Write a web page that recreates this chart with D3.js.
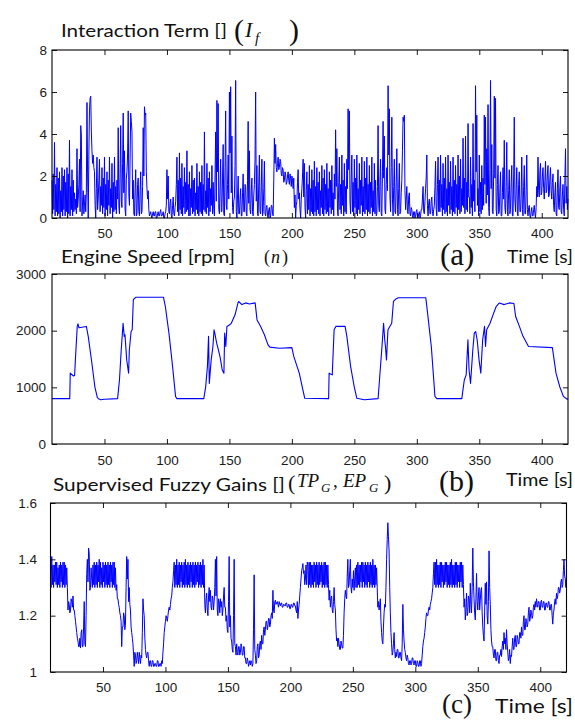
<!DOCTYPE html>
<html><head><meta charset="utf-8">
<script src="https://cdn.jsdelivr.net/npm/d3@7"></script>
<style>body{margin:0;background:#fff}</style>
</head><body>
<svg id="chart" width="575" height="720"></svg>
<script>
// ---------- data ----------
const sampleStart = 8;     // s, first sample of the sampled series
const sampleStep = 0.5;    // s
const timeDomain = [8, 421];
const timeTicks = [50, 100, 150, 200, 250, 300, 350, 400];

// (a) interaction term I_f, one value every 0.5 s from t = 8 s (each row = 10 s)
const interactionTerm = [
1.8,0.2,2.1,0.4,3.6,0.1,1.6,0.3,2.4,0.1,1.9,0.2,2.2,0.0,1.3,0.3,2.4,0.1,2.0,0.4,
2.3,0.1,1.7,0.3,2.4,0.0,2.1,0.2,3.7,0.1,1.5,0.4,2.3,0.1,1.8,0.3,1.2,0.4,0.9,0.2,
3.3,0.5,0.9,1.6,2.8,0.3,4.4,3.9,0.1,0.8,1.3,0.2,0.6,1.1,0.3,1.2,5.5,2.1,0.0,3.0,
5.1,5.7,5.8,4.1,3.2,2.6,3.0,2.4,2.2,0.6,0.0,1.4,2.9,0.4,0.9,1.8,2.8,0.3,1.5,0.6,
2.4,0.2,1.9,0.5,2.9,0.1,1.6,0.4,2.2,0.1,1.8,0.6,2.9,0.2,1.4,0.5,2.6,0.0,1.7,0.3,
2.9,0.4,1.5,0.2,1.8,0.9,4.3,0.6,0.2,2.1,4.4,0.8,0.5,2.6,5.0,1.2,3.2,0.4,0.1,1.9,
2.2,3.0,5.1,1.1,0.6,2.8,5.0,4.6,4.1,0.9,1.8,0.2,0.1,1.4,2.3,0.1,0.2,1.6,1.9,0.3,
0.1,1.3,2.2,0.2,0.3,1.5,4.3,2.0,5.3,4.9,5.0,2.2,1.4,0.9,1.3,0.4,0.1,0.2,0.3,0.1,
0.0,0.2,0.3,0.1,0.1,0.3,0.3,0.0,0.0,0.2,0.3,0.1,0.1,0.3,0.4,0.1,0.1,0.2,0.3,0.0,
0.0,0.2,0.3,0.6,2.3,0.9,2.0,0.3,0.2,0.7,0.9,0.1,0.0,0.6,1.0,0.2,0.1,0.5,0.8,1.6,
2.9,0.3,1.8,0.1,3.1,0.4,1.9,0.2,2.6,0.1,1.5,0.5,2.4,0.2,1.7,0.3,3.2,0.4,1.6,0.1,
2.2,0.1,1.4,0.5,2.5,0.2,1.8,0.3,1.9,0.1,1.2,0.4,2.6,0.2,1.5,0.1,2.2,0.3,1.7,0.2,
2.5,0.1,1.6,0.4,4.1,0.3,1.3,0.2,2.6,0.5,1.9,0.1,2.2,0.3,1.4,0.6,2.5,0.2,1.7,0.4,
0.1,2.0,4.1,0.8,5.6,2.2,5.45,0.4,0.2,1.5,2.8,0.3,0.3,1.9,3.5,0.2,0.1,2.4,5.1,0.6,
0.4,1.6,3.0,0.9,6.0,3.1,6.25,1.2,3.9,0.5,0.2,0.8,1.0,2.5,6.55,0.3,0.0,1.1,2.0,0.2,
0.2,0.9,1.4,0.1,0.1,1.2,2.1,0.3,0.3,1.6,1.5,0.2,0.1,1.8,4.6,0.7,3.2,0.4,0.2,1.3,
1.9,0.3,0.1,1.1,1.6,2.8,6.0,0.8,2.5,0.2,0.1,1.7,3.0,0.3,0.2,1.5,2.8,0.1,0.3,1.4,
2.7,0.2,0.1,0.5,0.6,0.1,0.0,0.4,0.5,0.0,0.1,0.6,0.6,0.2,0.1,1.8,3.8,2.6,3.5,2.4,
2.2,2.6,2.9,2.3,2.4,2.8,2.7,2.1,2.0,2.4,2.3,1.7,1.8,2.2,2.1,1.6,1.7,2.0,2.2,1.8,
1.6,2.1,1.9,1.5,2.0,1.8,1.4,1.9,0.5,1.1,0.0,0.6,0.8,1.7,2.3,0.9,1.2,0.4,0.0,0.9,
1.4,2.0,2.8,1.0,2.6,0.5,0.0,1.3,2.2,0.2,1.6,0.4,2.5,0.1,1.4,0.3,2.3,0.2,1.8,0.1,
2.7,0.3,1.5,0.1,2.4,0.4,1.7,0.2,2.2,0.1,1.3,0.5,2.5,0.2,1.9,0.1,2.3,0.4,1.6,0.2,
2.6,0.3,1.4,0.1,2.2,0.5,1.8,0.2,2.5,0.4,1.2,0.1,2.1,0.9,4.2,1.5,3.3,0.3,0.1,1.7,
2.9,0.4,1.6,0.2,3.0,0.6,1.8,0.1,2.6,0.3,1.5,0.2,2.8,1.4,5.2,2.3,5.1,0.8,0.2,1.9,
3.0,0.3,1.7,0.1,2.8,0.5,1.9,0.2,3.0,0.1,1.4,0.4,2.6,0.2,1.8,0.6,2.9,0.1,1.5,0.3,
2.7,0.2,1.9,0.4,2.9,0.1,1.6,0.3,2.5,0.2,1.7,0.5,2.9,0.1,1.3,0.3,2.6,0.2,1.8,0.1,
0.2,1.5,4.4,0.6,0.3,1.8,2.8,0.2,0.1,2.2,4.6,1.9,3.9,0.4,0.2,1.6,2.4,1.3,6.3,3.0,
5.2,1.0,0.3,2.4,4.8,0.9,0.1,1.5,2.8,0.3,0.2,1.7,3.3,0.4,0.1,1.4,2.6,0.2,0.3,1.2,
1.8,3.2,4.8,4.6,4.9,1.3,0.4,0.9,1.5,0.3,0.2,1.0,1.2,0.2,0.1,0.5,0.4,0.1,0.0,0.3,
0.3,0.0,0.1,0.3,0.4,0.1,0.0,0.2,0.3,0.0,0.1,0.4,0.4,0.9,1.5,0.3,0.2,0.8,1.4,1.9,
3.0,0.6,0.1,0.7,0.9,0.2,0.2,0.8,1.0,0.3,0.1,0.4,0.6,1.5,2.7,0.4,0.1,1.6,2.9,0.3,
1.8,0.3,3.0,0.5,1.6,0.1,2.6,0.4,1.9,0.2,2.9,0.3,1.4,0.1,3.0,0.6,1.7,0.2,2.7,0.4,
1.5,0.1,2.9,0.3,1.8,0.2,2.5,0.5,1.6,0.1,3.0,0.4,2.0,0.2,2.8,0.3,1.4,0.6,3.8,0.5,
1.9,0.2,3.9,0.4,1.7,0.3,4.5,1.0,1.0,0.2,2.9,0.5,1.6,0.1,4.5,0.8,1.8,0.3,6.3,2.2,
4.9,0.6,1.4,0.1,3.0,0.3,1.7,0.2,2.5,0.4,1.9,0.6,4.9,1.6,4.8,0.7,3.3,1.1,5.4,0.5,
0.1,2.3,6.55,1.4,3.5,0.3,0.2,2.1,5.8,1.9,5.7,0.4,0.1,1.6,2.5,0.2,0.3,1.4,2.2,0.1,
0.1,1.2,2.4,0.9,3.7,0.5,0.2,1.5,3.6,0.3,0.1,1.3,2.3,0.2,0.4,1.7,2.5,0.1,0.1,2.0,
4.8,0.9,0.3,1.4,2.4,0.2,0.1,1.6,2.2,0.3,0.3,1.1,2.9,0.4,0.1,1.5,2.5,0.2,0.2,1.3,
3.0,0.4,0.1,0.5,0.6,0.1,0.0,0.3,0.5,0.1,0.1,0.4,0.6,0.2,0.0,0.5,1.5,1.0,2.9,1.3,
1.0,2.2,2.6,1.1,1.2,2.0,2.4,1.4,0.9,1.8,2.7,1.2,1.3,2.1,2.5,1.0,1.1,1.9,2.4,1.3,
0.9,1.7,2.1,0.6,0.3,1.2,1.7,0.2,0.1,1.4,2.3,0.5,0.4,1.5,2.0,0.3,0.2,1.1,1.6,0.4,
0.1,1.8,3.3,0.7,1.5,0.4,0.9
];
const interactionTicks = [0, 2, 4, 6, 8];

// (b) engine speed n [rpm] at breakpoints
const engineSpeedTime = [
8,22.2,22.6,25.2,26.1,26.7,28.2,28.8,29.6,35.5,37,39.9,42.3,44.3,45.2,47,50,60.5,
62,63.4,64.9,65.8,66.4,67.8,69.3,69.9,71.3,72.2,73.1,74.3,75.2,97.2,98.7,101.6,104.5,106.9,108,
129.5,131,132.4,133.3,133.9,135.4,136.8,137.7,138.3,139.8,141.2,142.7,144.2,145.6,146.2,147.1,148,
150,151.5,154.5,156.8,157.4,160,163,166,170.6,172.1,175,178,180.9,182.4,190,200,201.5,205.9,208.8,210.3,
229.4,229.8,232.3,233.8,235.2,242.6,244,247,249.9,252,258,269,271.9,273.4,274.3,274.9,275.7,276.9,
278.4,279.9,281.3,283.1,285.2,307.2,308.6,311.6,314.5,316,336,338,339.5,340.9,341.8,343,344.8,346,
347.1,348.3,349.8,351.2,352.7,354.2,355,355.9,358.6,361.5,363.6,365.9,370,374,377.7,379.1,382.1,385,
389.4,408.5,411.4,414.4,417.3,420.3,421
];
const engineSpeedRpm = [
800,800,1250,1200,1210,1480,2075,2120,2050,2075,1900,1430,1010,820,800,780,790,800,
1130,1660,2130,1900,1930,1485,1250,1660,1985,2015,2546,2575,2590,2590,2430,1957,1370,840,800,
800,1010,1370,1900,1070,1485,1720,2015,1957,1780,1660,1515,1310,1250,1957,1720,2075,
2100,2130,2280,2487,2515,2460,2490,2470,2490,2190,2075,1927,1750,1710,1690,1700,1545,1250,955,807,
800,1250,1220,2015,2075,2075,1900,1370,1010,807,780,800,1660,2130,1840,1720,1485,2015,
2075,2130,2515,2558,2580,2580,2310,1720,840,800,800,1130,1220,1840,1310,1070,1660,1957,
1985,1840,1485,1250,1840,2075,1720,2015,2130,2310,2430,2487,2460,2490,2480,2250,2075,1900,
1720,1700,1250,1010,840,790,800
];
const engineSpeedTicks = [0, 1000, 2000, 3000];

// (c) supervised fuzzy gains, one value every 0.5 s from t = 8 s (each row = 10 s)
const fuzzyGain = [
1.33,1.30,1.41,1.31,1.38,1.30,1.38,1.32,1.39,1.31,1.39,1.30,1.37,1.31,1.38,1.30,1.39,1.32,1.38,1.30,
1.39,1.31,1.39,1.30,1.38,1.31,1.37,1.30,1.22,1.25,1.24,1.21,1.22,1.26,1.25,1.23,1.27,1.22,1.22,1.20,
1.18,1.16,1.14,1.12,1.11,1.09,1.09,1.12,1.085,1.14,1.15,1.09,1.09,1.16,1.25,1.10,1.09,1.20,1.35,1.40,
1.32,1.44,1.42,1.29,1.30,1.37,1.33,1.30,1.38,1.31,1.39,1.30,1.38,1.31,1.39,1.30,1.38,1.32,1.40,1.30,
1.39,1.31,1.37,1.30,1.39,1.32,1.38,1.30,1.39,1.31,1.38,1.30,1.39,1.31,1.38,1.30,1.39,1.32,1.38,1.30,
1.39,1.31,1.39,1.30,1.37,1.29,1.31,1.26,1.26,1.24,1.23,1.21,1.20,1.18,1.09,1.16,1.16,1.21,1.20,1.15,
1.17,1.30,1.41,1.33,1.40,1.25,1.30,1.24,1.22,1.16,1.14,1.12,1.10,1.06,1.02,1.07,1.06,1.03,1.04,1.07,
1.05,1.03,1.07,1.05,1.03,1.06,1.05,1.14,1.26,1.22,1.20,1.12,1.08,1.06,1.05,1.07,1.07,1.04,1.02,1.04,
1.04,1.02,1.02,1.04,1.04,1.02,1.02,1.03,1.03,1.02,1.02,1.04,1.04,1.02,1.02,1.03,1.03,1.02,1.04,1.03,
1.07,1.10,1.14,1.16,1.18,1.20,1.19,1.18,1.20,1.22,1.23,1.22,1.24,1.26,1.27,1.30,1.32,1.36,1.39,1.30,
1.38,1.31,1.40,1.30,1.38,1.31,1.39,1.30,1.38,1.32,1.39,1.30,1.38,1.31,1.39,1.30,1.40,1.31,1.38,1.30,
1.39,1.31,1.38,1.30,1.39,1.32,1.38,1.30,1.39,1.31,1.38,1.30,1.39,1.31,1.38,1.32,1.39,1.30,1.38,1.31,
1.39,1.30,1.38,1.31,1.40,1.30,1.38,1.24,1.21,1.26,1.28,1.22,1.20,1.27,1.30,1.25,1.29,1.23,1.22,1.27,
1.26,1.22,1.25,1.30,1.40,1.27,1.41,1.22,1.20,1.26,1.25,1.21,1.26,1.23,1.25,1.20,1.22,1.27,1.30,1.23,
1.23,1.18,1.20,1.15,1.14,1.25,1.41,1.16,1.20,1.12,1.11,1.08,1.07,1.20,1.40,1.10,1.09,1.06,1.10,1.07,
1.06,1.09,1.09,1.06,1.07,1.10,1.09,1.06,1.06,1.09,1.09,1.05,1.05,1.03,1.03,1.05,1.04,1.02,1.03,1.04,
1.025,1.04,1.035,1.02,1.03,1.15,1.345,1.08,1.06,1.03,1.04,1.09,1.10,1.05,1.06,1.10,1.11,1.08,1.13,1.10,
1.10,1.15,1.16,1.13,1.15,1.18,1.18,1.15,1.16,1.19,1.19,1.16,1.17,1.20,1.21,1.19,1.29,1.22,1.21,1.25,
1.255,1.24,1.245,1.25,1.24,1.23,1.25,1.24,1.235,1.245,1.245,1.23,1.23,1.24,1.24,1.235,1.235,1.245,1.245,1.23,
1.23,1.24,1.24,1.225,1.225,1.24,1.24,1.23,1.23,1.245,1.245,1.235,1.235,1.22,1.21,1.25,1.19,1.22,1.24,1.27,
1.30,1.33,1.36,1.37,1.385,1.35,1.36,1.31,1.33,1.38,1.31,1.39,1.38,1.30,1.39,1.31,1.39,1.30,1.38,1.31,
1.38,1.30,1.39,1.32,1.38,1.30,1.39,1.31,1.38,1.30,1.39,1.31,1.38,1.32,1.39,1.30,1.38,1.31,1.39,1.30,
1.39,1.31,1.38,1.30,1.38,1.31,1.255,1.29,1.23,1.26,1.27,1.22,1.21,1.25,1.30,1.24,1.22,1.15,1.11,1.12,
1.09,1.12,1.10,1.08,1.08,1.11,1.10,1.085,1.085,1.13,1.21,1.26,1.29,1.27,1.26,1.34,1.40,1.30,1.31,1.36,
1.40,1.30,1.28,1.33,1.30,1.36,1.29,1.33,1.37,1.30,1.38,1.30,1.39,1.31,1.38,1.30,1.38,1.32,1.39,1.30,
1.39,1.32,1.38,1.30,1.39,1.31,1.38,1.30,1.39,1.32,1.38,1.30,1.39,1.31,1.38,1.30,1.40,1.31,1.38,1.30,
1.38,1.31,1.37,1.30,1.23,1.25,1.22,1.24,1.26,1.18,1.14,1.11,1.10,1.16,1.21,1.24,1.23,1.30,1.40,1.47,
1.53,1.48,1.43,1.30,1.21,1.14,1.10,1.06,1.07,1.10,1.14,1.08,1.05,1.07,1.055,1.08,1.08,1.05,1.05,1.07,
1.07,1.05,1.04,1.10,1.24,1.15,1.11,1.08,1.07,1.05,1.04,1.06,1.05,1.03,1.025,1.04,1.04,1.025,1.03,1.05,
1.05,1.03,1.025,1.04,1.04,1.02,1.02,1.04,1.035,1.02,1.02,1.04,1.04,1.02,1.03,1.06,1.09,1.11,1.12,1.14,
1.16,1.19,1.21,1.20,1.20,1.22,1.23,1.22,1.24,1.25,1.26,1.28,1.30,1.35,1.39,1.31,1.39,1.30,1.40,1.31,
1.38,1.30,1.38,1.31,1.39,1.30,1.39,1.32,1.38,1.30,1.38,1.31,1.39,1.32,1.39,1.30,1.38,1.31,1.38,1.30,
1.39,1.31,1.40,1.30,1.38,1.31,1.38,1.30,1.39,1.31,1.39,1.30,1.38,1.32,1.38,1.30,1.39,1.32,1.39,1.30,
1.38,1.31,1.23,1.26,1.185,1.22,1.28,1.20,1.21,1.27,1.26,1.21,1.315,1.24,1.21,1.30,1.44,1.32,1.26,1.21,
1.185,1.26,1.35,1.25,1.22,1.27,1.30,1.22,1.255,1.29,1.30,1.21,1.16,1.13,1.11,1.22,1.315,1.24,1.32,1.20,
1.17,1.25,1.43,1.30,1.24,1.15,1.11,1.09,1.09,1.06,1.05,1.08,1.08,1.04,1.04,1.07,1.07,1.04,1.03,1.06,
1.06,1.08,1.055,1.09,1.11,1.08,1.14,1.10,1.12,1.08,1.15,1.10,1.07,1.04,1.05,1.08,1.03,1.06,1.055,1.09,
1.12,1.08,1.08,1.12,1.13,1.09,1.09,1.13,1.12,1.10,1.10,1.14,1.14,1.12,1.16,1.13,1.13,1.18,1.20,1.15,
1.15,1.19,1.18,1.16,1.17,1.21,1.23,1.18,1.19,1.22,1.21,1.19,1.20,1.23,1.24,1.22,1.25,1.23,1.26,1.24,
1.23,1.25,1.25,1.22,1.22,1.25,1.255,1.23,1.23,1.25,1.25,1.22,1.22,1.245,1.245,1.23,1.23,1.25,1.25,1.22,
1.22,1.24,1.24,1.20,1.17,1.21,1.22,1.25,1.26,1.24,1.28,1.26,1.27,1.30,1.30,1.28,1.29,1.32,1.33,1.30,
1.31,1.36,1.40,1.34,1.33,1.30,1.35
];
const fuzzyGainTicks = [1, 1.2, 1.4, 1.6];

// ---------- drawing ----------
const svg = d3.select('#chart');
const LINE = '#0000ff';
const TICKFONT = '"Liberation Sans", Arial, sans-serif';
const TITLEFONT = 'Lato, "Open Sans", sans-serif';
const SERIF = '"Liberation Serif", "Times New Roman", serif';

function drawPanel(cfg) {
  const x = d3.scaleLinear().domain(timeDomain).range([cfg.left, cfg.right]);
  const y = d3.scaleLinear().domain(cfg.yDomain).range([cfg.bottom, cfg.top]);
  const g = svg.append('g');

  const line = d3.line().x(d => x(d[0])).y(d => y(d[1]));
  g.append('path').datum(cfg.points)
    .attr('d', line).attr('fill', 'none').attr('stroke', LINE)
    .attr('stroke-width', cfg.lw).attr('stroke-linejoin', 'round');

  const style = sel => {
    sel.select('.domain').remove();
    sel.attr('font-family', TICKFONT).attr('font-size', 13.5);
    sel.selectAll('line').attr('stroke', '#000').attr('stroke-width', 0.9);
    sel.selectAll('text').attr('fill', '#1a1a1a');
  };
  g.append('g').attr('transform', `translate(0,${cfg.bottom})`)
    .call(d3.axisBottom(x).tickValues(timeTicks).tickSizeInner(-5).tickSizeOuter(0)
      .tickPadding(cfg.xPad).tickFormat(d3.format('d'))).call(style);
  g.append('g').attr('transform', `translate(0,${cfg.top})`)
    .call(d3.axisTop(x).tickValues(timeTicks).tickSizeInner(-5).tickSizeOuter(0).tickFormat('')).call(style);
  g.append('g').attr('transform', `translate(${cfg.left},0)`)
    .call(d3.axisLeft(y).tickValues(cfg.yTicks).tickSizeInner(-5).tickSizeOuter(0)
      .tickPadding(cfg.yPad).tickFormat(cfg.fmt)).call(style);
  g.append('g').attr('transform', `translate(${cfg.right},0)`)
    .call(d3.axisRight(y).tickValues(cfg.yTicks).tickSizeInner(-5).tickSizeOuter(0).tickFormat('')).call(style);

  g.append('rect').attr('x', cfg.left).attr('y', cfg.top)
    .attr('width', cfg.right - cfg.left).attr('height', cfg.bottom - cfg.top)
    .attr('fill', 'none').attr('stroke', '#000').attr('stroke-width', 1.1);
}

const sampled = arr => arr.map((v, i) => [sampleStart + i * sampleStep, v]);

drawPanel({ left: 52, right: 568, top: 50, bottom: 218, yDomain: [0, 8], yTicks: interactionTicks,
  fmt: d3.format('d'), xPad: 10, yPad: 5, lw: 1, points: sampled(interactionTerm) });
drawPanel({ left: 52, right: 568, top: 274, bottom: 444, yDomain: [0, 3000], yTicks: engineSpeedTicks,
  fmt: d3.format('d'), xPad: 11, yPad: 6, lw: 1.1, points: engineSpeedTime.map((t, i) => [t, engineSpeedRpm[i]]) });
drawPanel({ left: 50.5, right: 566.5, top: 503, bottom: 672, yDomain: [1, 1.6], yTicks: fuzzyGainTicks,
  fmt: d => d === 1 ? '1' : d3.format('.1f')(d), xPad: 10, yPad: 13.5, lw: 1, points: sampled(fuzzyGain) });

// ---------- titles ----------
function title(txt, x, yb, len, size) {
  svg.append('text').attr('x', x).attr('y', yb).text(txt)
    .attr('font-family', TITLEFONT).attr('font-size', size || 17).attr('fill', '#111')
    .attr('textLength', len).attr('lengthAdjust', 'spacingAndGlyphs');
}
function serif(txt, x, yb, size, italic) {
  svg.append('text').attr('x', x).attr('y', yb).text(txt)
    .attr('font-family', SERIF).attr('font-size', size).attr('fill', '#111')
    .attr('font-style', italic ? 'italic' : 'normal');
}

title('Interaction Term []', 61, 37, 166);
serif('(', 234, 40, 30); serif('I', 245, 37, 22, true); serif('f', 255, 43, 15, true); serif(')', 289, 40, 30);

title('Engine Speed [rpm]', 61, 263, 174);
serif('(', 264, 263, 18); serif('n', 271, 263, 18, true); serif(')', 282, 263, 18);
serif('(a)', 440, 265, 31);
title('Time [s]', 507, 263, 66, 18);

title('Supervised Fuzzy Gains []', 53, 491, 232);
serif('(', 288, 490, 22); serif('TP', 297, 487, 19, true); serif('G', 321, 492, 13, true);
serif(',', 333, 487, 19); serif('EP', 343, 487, 19, true); serif('G', 369, 492, 13, true);
serif(')', 384, 490, 22);
serif('(b)', 439, 491, 30);
title('Time [s]', 506, 486, 67, 18);

serif('(c)', 442, 713, 27);
title('Time [s]', 495, 713, 78, 19);
</script>
</body></html>
